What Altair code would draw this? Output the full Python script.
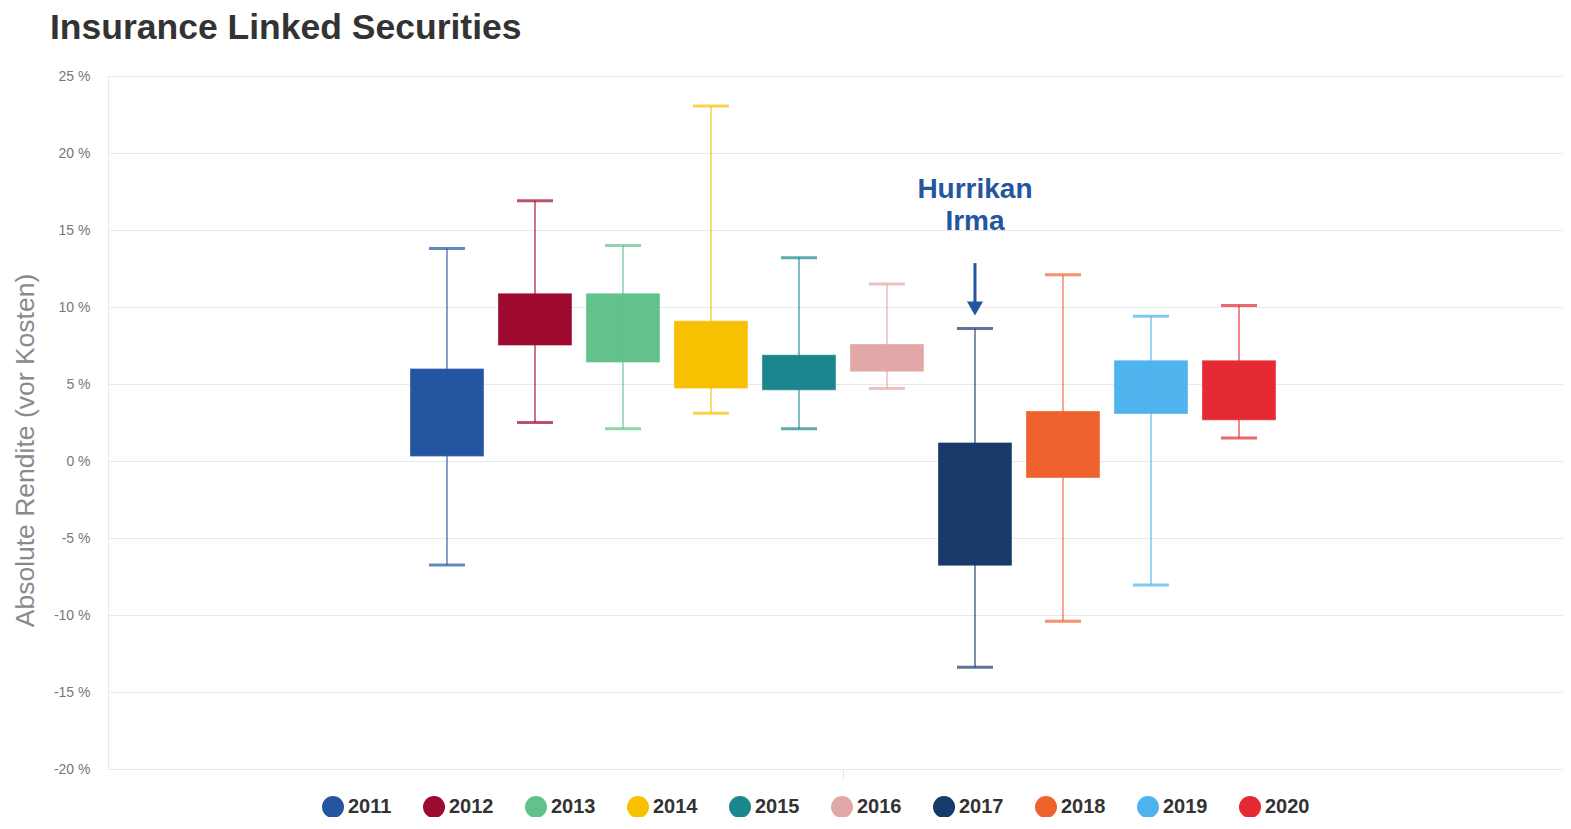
import altair as alt
import pandas as pd

years = [2011, 2012, 2013, 2014, 2015, 2016, 2017, 2018, 2019, 2020]
mins = [-6.75, 2.5, 2.1, 3.1, 2.1, 4.7, -13.4, -10.4, -8.05, 1.5]
q1s = [0.3, 7.5, 6.4, 4.7, 4.6, 5.8, -6.8, -1.1, 3.05, 2.65]
q3s = [6.0, 10.9, 10.9, 9.1, 6.9, 7.6, 1.2, 3.25, 6.55, 6.55]
maxs = [13.8, 16.9, 14.0, 23.05, 13.2, 11.5, 8.6, 12.1, 9.4, 10.1]
colors = ["#2455a0", "#9e0a2f", "#63c18b", "#f7c000", "#1b868e",
          "#e2a8a7", "#183a6b", "#f0622d", "#4fb3ee", "#e52a35"]

anno_lines = ["Hurrikan", "Irma"]
anno_y = [17.6, 15.5]
arrow_from = 12.85
arrow_to = 10.2
arrow_tip = 9.9
anno_year = 2017

df = pd.DataFrame({
    "year": years,
    "Jahr": [str(y) for y in years],
    "min": mins, "q1": q1s, "q3": q3s, "max": maxs,
})

FONT = "Liberation Sans"
color_scale = alt.Scale(domain=[str(y) for y in years], range=colors)
x_enc = alt.X("year:Q",
              scale=alt.Scale(domain=[2007.148, 2023.682], nice=False, zero=False, padding=0),
              axis=alt.Axis(values=[2015.5], labels=False, title=None, grid=False,
                            domain=False, tickColor="#e4e4e4", tickSize=10, tickWidth=1))
y_scale = alt.Scale(domain=[-20, 25], nice=False, padding=0)
y_axis = alt.Axis(values=list(range(-20, 26, 5)), labelExpr="datum.value + ' %'",
                  title="Absolute Rendite (vor Kosten)", titleFontSize=26.5,
                  titleFontWeight="normal", titleColor="#8a8a8a", titlePadding=14,
                  titleY=374,
                  labelFontSize=14, labelColor="#777777", labelPadding=18,
                  ticks=False, domain=True, domainColor="#e8e8e8",
                  gridColor="#e8e8e8", gridWidth=1)

legend = alt.Legend(title=None, orient="none", direction="horizontal",
                    columns=10, legendX=214, legendY=720,
                    symbolType="circle", symbolSize=484,
                    symbolStrokeWidth=0, symbolOpacity=1,
                    labelFontSize=20, labelFontWeight="bold",
                    labelColor="#333333", labelFont=FONT,
                    labelOffset=4, columnPadding=31)
color_enc = alt.Color("Jahr:N", scale=color_scale, legend=legend)

base = alt.Chart(df)

boxes = base.mark_bar(size=74, stroke="white", strokeOpacity=0.35, strokeWidth=1).encode(
    x=x_enc,
    y=alt.Y("q1:Q", scale=y_scale, axis=y_axis),
    y2="q3:Q",
    color=color_enc,
)
whisk = base.mark_rule(strokeWidth=1.6, opacity=0.7).encode(
    x="year:Q", y="min:Q", y2="max:Q", color=color_enc,
)
cap_hi = base.mark_tick(orient="horizontal", size=36, thickness=3).encode(
    x="year:Q", y="max:Q", color=color_enc,
)
cap_lo = base.mark_tick(orient="horizontal", size=36, thickness=3).encode(
    x="year:Q", y="min:Q", color=color_enc,
)

anno_df = pd.DataFrame({"year": [anno_year] * len(anno_lines), "y": anno_y, "t": anno_lines})
anno = alt.Chart(anno_df).mark_text(fontSize=28, fontWeight="bold", color="#2456a0",
                                    font=FONT, baseline="middle", align="center").encode(
    x="year:Q", y="y:Q", text="t:N")

arrow_df = pd.DataFrame({"year": [anno_year], "a": [arrow_from], "b": [arrow_to], "tip": [arrow_tip]})
arrow_line = alt.Chart(arrow_df).mark_rule(strokeWidth=3, color="#2456a0").encode(
    x="year:Q", y="a:Q", y2="b:Q")
arrow_head = alt.Chart(arrow_df).mark_point(shape="triangle-down", filled=True, size=260,
                                            color="#2456a0", opacity=1).encode(
    x="year:Q", y="tip:Q")

chart = alt.layer(boxes, whisk, cap_hi, cap_lo, arrow_line, arrow_head, anno).properties(
    width=1455, height=693,
    autosize=alt.AutoSizeParams(type="none"),
    padding={"left": 100, "top": 68, "right": 0, "bottom": 48},
    title=alt.TitleParams("Insurance Linked Securities", anchor="start", frame="group",
                          dx=-58, fontSize=35.5, fontWeight="bold", color="#333333",
                          font=FONT, offset=23),
).configure_view(stroke=None).configure(font=FONT)

chart.save("out.html", embed_options={"renderer": "svg", "actions": False})
